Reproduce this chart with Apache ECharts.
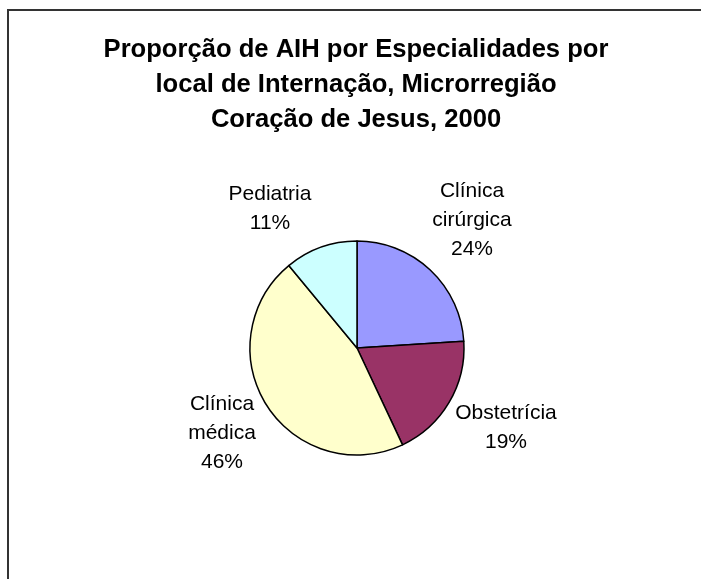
<!DOCTYPE html>
<html>
<head>
<meta charset="utf-8">
<script src="https://cdn.jsdelivr.net/npm/echarts@6/dist/echarts.min.js"></script>
<style>html,body{margin:0;padding:0;background:#fff;}#chart{width:701px;height:579px;}</style>
</head>
<body>
<div id="chart"></div>
<script>
const categories = ['Clínica\ncirúrgica', 'Obstetrícia', 'Clínica\nmédica', 'Pediatria'];
const values = [24, 19, 46, 11];
const colors = ['#9999FF', '#993366', '#FFFFCC', '#CCFFFF'];
const titleText = 'Proporção de AIH por Especialidades por\nlocal de Internação, Microrregião\nCoração de Jesus, 2000';
// label block centres (layout only)
const labelPos = [[472, 220], [506, 428], [222, 433], [270, 209]];

const chart = echarts.init(document.getElementById('chart'), null, {renderer: 'canvas'});
chart.setOption({
  backgroundColor: '#fff',
  animation: false,
  title: {
    text: titleText,
    left: 351, top: 27, textAlign: 'center',
    textStyle: {fontFamily: 'Liberation Sans, Arial', fontWeight: 'bold', fontSize: 25.6, lineHeight: 35, color: '#000'}
  },
  graphic: [{
    type: 'rect', shape: {x: 8, y: 10, width: 800, height: 700},
    style: {fill: 'none', stroke: '#333', lineWidth: 2}, silent: true
  }],
  series: [{
    type: 'pie',
    center: [357, 348],
    radius: 107,
    startAngle: 90,
    clockwise: true,
    percentPrecision: 0,
    data: categories.map((c, i) => ({name: c, value: values[i], itemStyle: {color: colors[i]}})),
    itemStyle: {borderColor: '#000', borderWidth: 1.5},
    label: {
      show: true, position: 'outside', formatter: '{b}\n{d}%',
      fontFamily: 'Liberation Sans, Arial', fontSize: 21, lineHeight: 29, color: '#000', align: 'center'
    },
    labelLine: {show: false},
    labelLayout: function (p) {
      return {x: labelPos[p.dataIndex][0], y: labelPos[p.dataIndex][1], align: 'center', verticalAlign: 'middle'};
    },
    emphasis: {disabled: true}
  }]
});
</script>
</body>
</html>
